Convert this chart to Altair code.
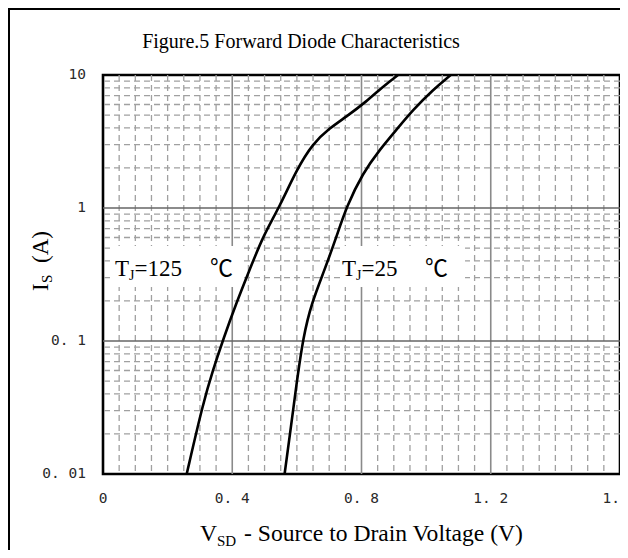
import altair as alt
import pandas as pd

# ---- curve data ----
V_125 = [0.259, 0.310, 0.341, 0.372, 0.413, 0.454, 0.495, 0.547, 0.599, 0.650, 0.701,
         0.753, 0.815, 0.866, 0.913]
I_125 = [0.01, 0.0344, 0.0612, 0.1028, 0.194, 0.344, 0.612, 1.028, 1.94, 3.07, 3.98,
         4.86, 6.31, 8.17, 10.0]
V_25 = [0.562, 0.578, 0.598, 0.620, 0.646, 0.686, 0.723, 0.754, 0.804, 0.856, 0.908,
        0.959, 1.021, 1.076]
I_25 = [0.01, 0.0194, 0.0459, 0.1089, 0.194, 0.344, 0.612, 1.028, 1.83, 2.74, 3.87,
        5.46, 7.72, 10.0]

# ---- axes / grid ----
X_TICKS = [0, 0.4, 0.8, 1.2, 1.6]
X_LABELS = ["0", "0. 4", "0. 8", "1. 2", "1. 6"]
Y_TICKS = [0.01, 0.1, 1, 10]
Y_LABELS = ["0. 01", "0. 1", "1", "10"]
V_MAJOR = [0.4, 0.8, 1.2]
I_MAJOR = [0.1, 1]
V_MINOR = [0.05, 0.1, 0.15, 0.2, 0.25, 0.3, 0.35, 0.45, 0.5, 0.55, 0.6, 0.65, 0.7, 0.75,
           0.85, 0.9, 0.95, 1.0, 1.05, 1.1, 1.15, 1.25, 1.3, 1.35, 1.4, 1.45, 1.5, 1.55]
I_MINOR = [0.02, 0.03, 0.04, 0.05, 0.06, 0.07, 0.08, 0.09,
           0.2, 0.3, 0.4, 0.5, 0.6, 0.7, 0.8, 0.9,
           2, 3, 4, 5, 6, 7, 8, 9]

# ---- annotations ----
BOX_V1 = [0.0217, 0.7335]
BOX_V2 = [0.427, 1.1204]
BOX_I1 = [0.2547, 0.2547]
BOX_I2 = [0.518, 0.518]
ANN_MAIN_TEXT = ["T", "=125", "T", "=25"]
ANN_MAIN_V = [0.0371, 0.0975, 0.7397, 0.800]
ANN_SUB_TEXT = ["J", "J"]
ANN_SUB_V = [0.0806, 0.783]
ANN_DEG_TEXT = ["℃", "℃"]
ANN_DEG_V = [0.331, 0.9966]
ANN_BASE_I = 0.308
ANN_SUB_I = 0.2874

TITLE = "Figure.5 Forward Diode Characteristics"
SERIF = "Liberation Serif"
MONO = "DejaVu Sans Mono"

xs = alt.Scale(domain=[0, 1.6], nice=False, zero=False)
ys = alt.Scale(type="log", domain=[0.01, 10], nice=False)

curves = pd.DataFrame({
    "V": V_125 + V_25,
    "I": I_125 + I_25,
    "s": ["125"] * len(V_125) + ["25"] * len(V_25),
})

minor_v = alt.Chart(pd.DataFrame({"v": V_MINOR})).mark_rule(
    color="#a0a0a0", strokeWidth=1.3, strokeDash=[6, 4]).encode(x=alt.X("v:Q", scale=xs, axis=None))
minor_h = alt.Chart(pd.DataFrame({"i": I_MINOR})).mark_rule(
    color="#a0a0a0", strokeWidth=1.3, strokeDash=[6, 4]).encode(y=alt.Y("i:Q", scale=ys, axis=None))
major_v = alt.Chart(pd.DataFrame({"v": V_MAJOR})).mark_rule(
    color="#8a8a8a", strokeWidth=1.6).encode(x=alt.X("v:Q", scale=xs, axis=None))
major_h = alt.Chart(pd.DataFrame({"i": I_MAJOR})).mark_rule(
    color="#666666", strokeWidth=1.6).encode(y=alt.Y("i:Q", scale=ys, axis=None))

boxes = alt.Chart(pd.DataFrame({"v1": BOX_V1, "v2": BOX_V2, "i1": BOX_I1, "i2": BOX_I2})).mark_rect(
    fill="white").encode(
    x=alt.X("v1:Q", scale=xs, axis=None), x2="v2:Q",
    y=alt.Y("i1:Q", scale=ys, axis=None), y2="i2:Q")

lines = alt.Chart(curves).mark_line(color="black", strokeWidth=2.6, interpolate="basis").encode(
    x=alt.X("V:Q", scale=xs, axis=None),
    y=alt.Y("I:Q", scale=ys, axis=None),
    detail="s:N",
)

xlab = alt.Chart(pd.DataFrame({"v": X_TICKS, "t": X_LABELS})).mark_text(
    font=MONO, fontSize=14.5, color="#2a2a2a", align="center", baseline="middle").encode(
    x=alt.X("v:Q", scale=xs, axis=None), y=alt.value(424), text="t:N")
ylab = alt.Chart(pd.DataFrame({"i": Y_TICKS, "t": Y_LABELS})).mark_text(
    font=MONO, fontSize=14.5, color="#2a2a2a", align="right", baseline="middle").encode(
    y=alt.Y("i:Q", scale=ys, axis=None), x=alt.value(-17), text="t:N")

ann_main = alt.Chart(pd.DataFrame({"t": ANN_MAIN_TEXT, "v": ANN_MAIN_V, "i": [ANN_BASE_I] * 4})).mark_text(
    font=SERIF, fontSize=23, align="left", baseline="alphabetic", color="black").encode(
    x=alt.X("v:Q", scale=xs, axis=None), y=alt.Y("i:Q", scale=ys, axis=None), text="t:N")
ann_sub = alt.Chart(pd.DataFrame({"t": ANN_SUB_TEXT, "v": ANN_SUB_V, "i": [ANN_SUB_I] * 2})).mark_text(
    font=SERIF, fontSize=14, align="left", baseline="alphabetic", color="black").encode(
    x=alt.X("v:Q", scale=xs, axis=None), y=alt.Y("i:Q", scale=ys, axis=None), text="t:N")
ann_deg = alt.Chart(pd.DataFrame({"t": ANN_DEG_TEXT, "v": ANN_DEG_V, "i": [ANN_BASE_I] * 2})).mark_text(
    font="Noto Sans CJK SC", fontSize=23, align="left", baseline="alphabetic", color="black").encode(
    x=alt.X("v:Q", scale=xs, axis=None), y=alt.Y("i:Q", scale=ys, axis=None), text="t:N")


def label(text, x, y, size, angle=0, font=SERIF, align="left"):
    kw = dict(font=font, fontSize=size, align=align, baseline="alphabetic", color="black")
    if angle:
        kw["angle"] = angle
    return alt.Chart(pd.DataFrame({"t": [text]})).mark_text(**kw).encode(
        x=alt.value(x), y=alt.value(y), text="t:N")


title = label(TITLE, 198, -27, 20, align="center")
xt1 = label("V", 97, 466, 23.6)
xt2 = label("SD", 114, 471, 15)
xt3 = label("- Source to Drain Voltage (V)", 141, 466, 23.6)
yt1 = label("I", -55, 216, 23, angle=270)
yt2 = label("S", -51, 208, 15, angle=270)
yt3 = label("(A)", -55, 188, 23, angle=270)

frame = alt.Chart(pd.DataFrame({"a": [0]})).mark_rect(
    fill="transparent", stroke="black", strokeWidth=2).encode(
    x=alt.value(-94), x2=alt.value(560), y=alt.value(-66), y2=alt.value(520))

chart = alt.layer(
    minor_v, minor_h, major_v, major_h, boxes, lines, xlab, ylab, ann_main, ann_sub, ann_deg,
    title, xt1, xt2, xt3, yt1, yt2, yt3, frame,
).properties(
    width=517, height=399,
    background="white",
    autosize=alt.AutoSizeParams(type="none"),
    padding={"left": 95, "top": 67, "right": 0, "bottom": 76},
).configure_view(
    stroke="black", strokeWidth=2.6
)

chart.save("out.html", embed_options={"renderer": "svg", "actions": False})
